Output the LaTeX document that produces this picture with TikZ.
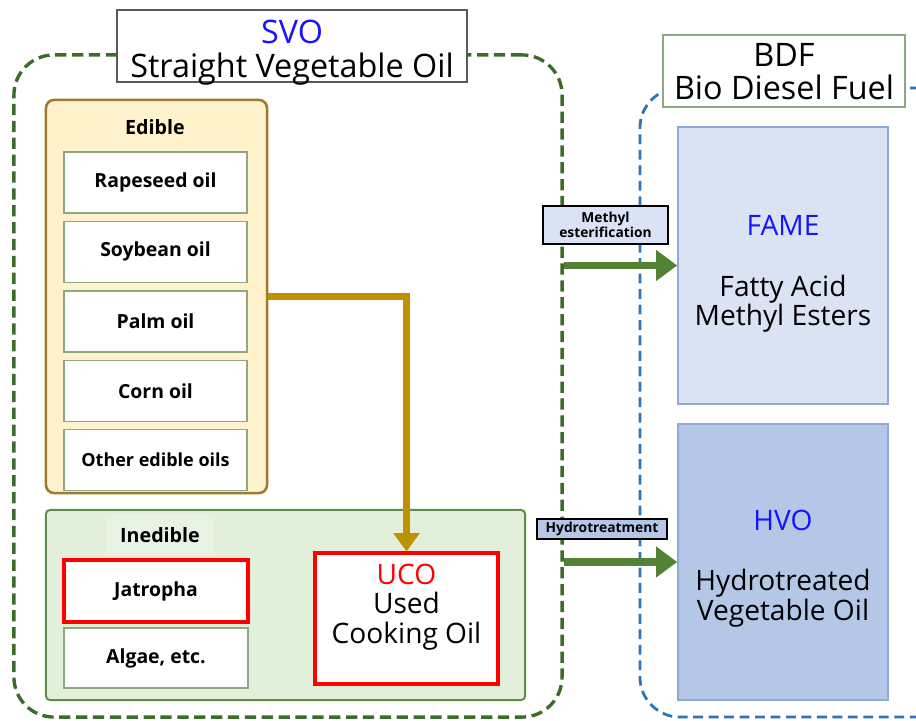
\documentclass[tikz,border=0pt]{standalone}
\usepackage{fontspec}
\setmainfont{Open Sans}
\usetikzlibrary{positioning, arrows.meta}
\definecolor{svogreen}{HTML}{3D6B2A}
\definecolor{bdfblue}{HTML}{2E75B6}
\definecolor{titleblue}{HTML}{1414FF}
\definecolor{ediblefill}{HTML}{FFF2CC}
\definecolor{edibleline}{HTML}{9C7A2E}
\definecolor{inediblefill}{HTML}{E2EFDA}
\definecolor{inediblepatch}{HTML}{E9F3E3}
\definecolor{inedibleline}{HTML}{5E8C4A}
\definecolor{itemline}{HTML}{8FA882}
\definecolor{oilgold}{HTML}{BF9000}
\definecolor{arrowgreen}{HTML}{548235}
\definecolor{famefill}{HTML}{DAE3F3}
\definecolor{hvofill}{HTML}{B4C7E7}
\definecolor{fuelline}{HTML}{8EA9DB}
% shifts a block of lines down without changing its box
\newcommand{\lowerlines}[2]{\raisebox{-#1}[\height][\depth]{\begin{tabular}{@{}c@{}}#2\end{tabular}}}
\tikzset{
    titletext/.style={font=\fontsize{23}{21.5}\selectfont}, % group headings
    bigtext/.style={font=\fontsize{20}{19.3}\selectfont}, % fuel and UCO texts
    svoframe/.style={draw=svogreen, line width=2.4pt, dash pattern=on 8pt off 4pt, rounded corners=1cm, minimum width=13.7cm, minimum height=16.55cm, inner sep=0pt}, % dashed SVO group
    bdfframe/.style={draw=bdfblue, line width=2pt, dash pattern=on 7pt off 4pt, rounded corners=1cm, minimum width=8cm, minimum height=15.725cm, inner sep=0pt}, % dashed BDF group
    svotitle/.style={titletext, draw=black!65, line width=0.9pt, fill=white, align=center, minimum width=8.75cm, minimum height=1.8cm, inner sep=0pt}, % SVO heading
    bdftitle/.style={titletext, draw=itemline, line width=0.9pt, fill=white, align=center, minimum width=6.05cm, minimum height=1.8cm, inner sep=0pt}, % BDF heading
    ediblebox/.style={draw=edibleline, line width=1.8pt, fill=ediblefill, rounded corners=0.2cm, minimum width=5.525cm, minimum height=9.825cm}, % edible group
    inediblebox/.style={draw=inedibleline, line width=1.4pt, fill=inediblefill, rounded corners=0.1cm, minimum width=11.975cm, minimum height=4.75cm}, % inedible group
    grouplabel/.style={font=\bfseries\fontsize{14}{16}\selectfont}, % Edible / Inedible
    itembox/.style={draw=itemline, line width=1pt, fill=white, minimum width=4.575cm, minimum height=1.525cm, inner sep=0pt, font=\bfseries\fontsize{13.8}{16}\selectfont}, % oil sources
    ucobox/.style={bigtext, draw=red, line width=2.2pt, fill=white, align=center, minimum width=4.575cm, minimum height=3.275cm, inner sep=0pt}, % used cooking oil
    fuelbox/.style={bigtext, draw=fuelline, line width=1pt, align=center, minimum width=5.25cm, minimum height=6.925cm, inner sep=0pt}, % FAME / HVO
    steplabel/.style={draw=black, line width=1pt, align=center, minimum width=3.125cm, minimum height=0.95cm, inner sep=0pt, font=\bfseries\fontsize{9.8}{11}\selectfont}, % process names
    goldarrow/.style={draw=oilgold, line width=4.3pt, -{Triangle[width=18pt, length=13pt]}}, % UCO flow
    processarrow/.style={draw=arrowgreen, line width=5pt, -{Triangle[width=21pt, length=15pt]}}, % conversion
}
\begin{document}
\begin{tikzpicture}[x=0.025cm, y=-0.025cm]
        \clip (0,0) rectangle (916,721);

        % Frames
        \node[svoframe] (svo) at (288,386) {};
        \node[bdfframe] (bdf) at (800,402.5) {};
        \node[svotitle] (svotitle) at (292,46) {\lowerlines{5pt}{\textcolor{titleblue}{SVO}\\Straight Vegetable Oil}};
        \node[bdftitle] (bdftitle) at (784,71) {\lowerlines{3.5pt}{BDF\\Bio Diesel Fuel}};

        % Edible oils
        \node[ediblebox] (edible) at (156.5,296.5) {};
        \node[grouplabel] (ediblelabel) at (155,127) {Edible};
        \node[itembox] (rapeseed) at (155.5,182.5) {Rapeseed oil};
        \node[itembox, below=0.175cm of rapeseed] (soybean) {Soybean oil};
        \node[itembox, below=0.175cm of soybean] (palm) {Palm oil};
        \node[itembox, below=0.175cm of palm] (corn) {Corn oil};
        \node[itembox, below=0.175cm of corn, font=\bfseries\fontsize{12.8}{15}\selectfont] (other) {Other edible oils};

        % Inedible oils
        \node[inediblebox] (inedible) at (285.5,605) {};
        \node[grouplabel, fill=inediblepatch, minimum width=2.75cm, minimum height=1cm] (inediblelabel) at (160,535.5) {Inedible};
        \node[itembox, draw=red, line width=2.2pt, minimum width=4.6cm, minimum height=1.55cm] (jatropha) at (156,591) {Jatropha};
        \node[itembox, minimum width=4.6cm, minimum height=1.5cm] (algae) at (156,658) {Algae, etc.};
        \node[ucobox] (uco) at (406.5,618.5) {\begin{tabular}{@{}c@{}}\textcolor{red}{UCO}\\Used\\Cooking Oil\\[0.55cm]\end{tabular}};

        % Fuels
        \node[fuelbox, fill=famefill] (fame) at (783,265.5) {\lowerlines{6.5pt}{\textcolor{titleblue}{FAME}\\[22pt]Fatty Acid\\Methyl Esters}};
        \node[fuelbox, fill=hvofill, minimum height=6.9cm] (hvo) at (783,562) {\lowerlines{5pt}{\textcolor{titleblue}{HVO}\\[22pt]Hydrotreated\\Vegetable Oil}};

        % edges
        \draw[goldarrow] (edible.east) -| (uco.north);
        \draw[processarrow] (svo.east |- fame.west) -- (fame.west);
        \draw[processarrow] (svo.east |- hvo.west) -- (hvo.west);
        \node[steplabel, fill=famefill] (methyl) at (605.5,225) {Methyl\\esterification};
        \node[steplabel, fill=hvofill, minimum width=3.25cm, minimum height=0.5cm] (hydro) at (602,529) {Hydrotreatment};
\end{tikzpicture}
\end{document}
